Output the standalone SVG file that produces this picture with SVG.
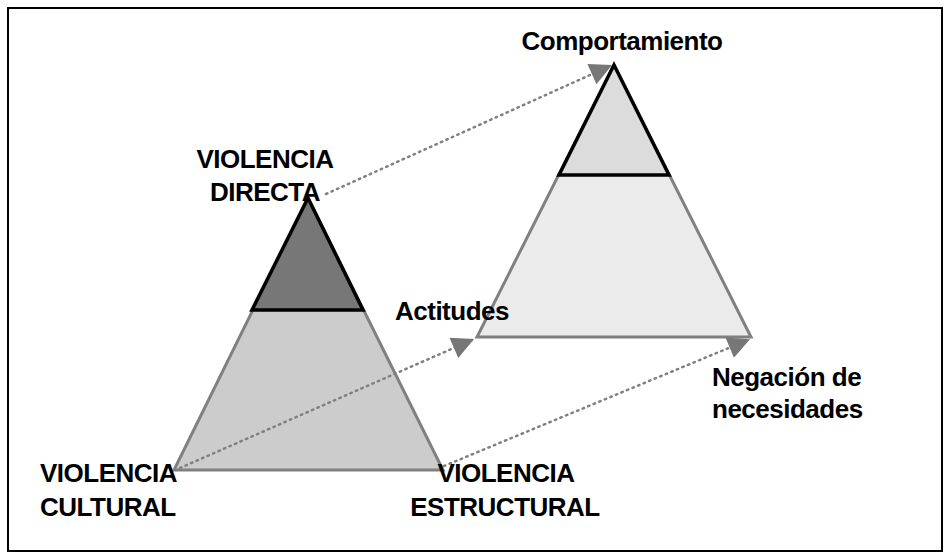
<svg xmlns="http://www.w3.org/2000/svg" width="951" height="560" viewBox="0 0 951 560">
<style>
text{font-family:"Liberation Sans",Arial,sans-serif;font-weight:bold;font-size:26px;fill:#000;letter-spacing:-0.5px}
.c{stroke:#808080;stroke-width:2.5;stroke-dasharray:1.5 4.5;stroke-linecap:round;fill:none}
.o{stroke:#808080;stroke-width:3}
.i{stroke:#000;stroke-width:3.5}
</style>
<defs>
<marker id="b" viewBox="0 0 10 10" refX="9" refY="5" markerWidth="26" markerHeight="22" orient="auto" markerUnits="userSpaceOnUse"><path d="M0,0L10,5L0,10z" fill="#777"/></marker></defs>
<rect x="8" y="8" width="934" height="543" fill="#fff" stroke="#000" stroke-width="2"/>
<g id="left">
<polygon class="o" points="308,198 443,470 174,470" fill="#cccccc"/>
<polygon class="i" points="308,198 363,310 252,310" fill="#777777"/>
</g>
<g id="right">
<polygon class="o" points="614,65 751,337 477,337" fill="#ebebeb"/>
<polygon class="i" points="614,65 669,175 559,175" fill="#dcdcdc"/>
</g>
<g id="connectors">
<line class="c" x1="326" y1="194" x2="610" y2="66" marker-end="url(#b)"/>
<line class="c" x1="180" y1="468" x2="472" y2="340" marker-end="url(#b)"/>
<line class="c" x1="444" y1="466" x2="748" y2="340" marker-end="url(#b)"/>
</g>
<g id="labels">
<text x="265" y="168" text-anchor="middle">VIOLENCIA</text>
<text x="265" y="201" text-anchor="middle">DIRECTA</text>
<text x="40" y="482">VIOLENCIA</text>
<text x="40" y="516">CULTURAL</text>
<text x="506" y="482" text-anchor="middle">VIOLENCIA</text>
<text x="505" y="516" text-anchor="middle">ESTRUCTURAL</text>
<text x="622" y="50" text-anchor="middle">Comportamiento</text>
<text x="395" y="320">Actitudes</text>
<text x="712" y="386">Negación de</text>
<text x="712" y="418">necesidades</text>
</g>
</svg>
